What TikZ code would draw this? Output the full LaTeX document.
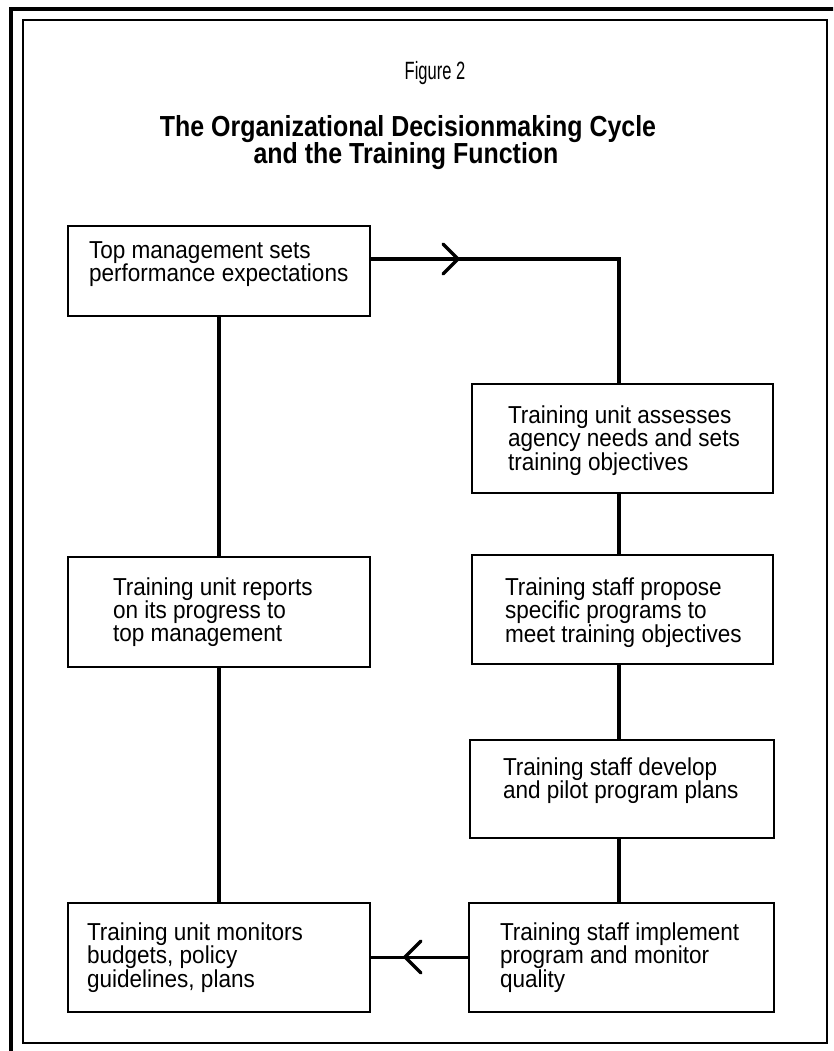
\documentclass[tikz,border=0pt]{standalone}
\usepackage{fontspec}
\setmainfont{Liberation Sans}
\newfontfamily\figfont[FakeStretch=0.66]{Liberation Sans}
\newfontfamily\titlefont[FakeStretch=0.86]{Liberation Sans}
\newfontfamily\boxfont[FakeStretch=0.92]{Liberation Sans}
\newcommand{\boxtext}[5]{\parbox[c][#2][t]{#1}{\boxfont\fontsize{24.5}{22.8}\selectfont\parindent=0pt\leftskip=#3\relax\rule{0pt}{#4}#5}}
\tikzset{
  box/.style={draw, line width=2.2pt, inner sep=0pt, outer sep=0pt, anchor=north west},
  link/.style={line width=3.2pt},
  chev/.style={line width=3.4pt, line cap=round, line join=miter},
  outerframe/.style={line width=3.2pt},
  innerframe/.style={line width=2.2pt},
  fignum/.style={anchor=base, inner sep=0pt, font=\figfont\fontsize{25}{25}\selectfont},
  titletext/.style={anchor=base, inner sep=0pt, font=\titlefont\bfseries\fontsize{29}{29}\selectfont}
}
\begin{document}
\begin{tikzpicture}[x=1pt, y=-1pt]
\useasboundingbox (0,0) rectangle (833,1051);
\clip (0,0) rectangle (833,1051);
% frames
\draw[outerframe] (11,1070) -- (11,9) -- (850,9);
\draw[innerframe] (23,20) rectangle (827,1043);
% titles
\node[fignum] (fig) at (435,80) {Figure 2};
\node[titletext] (title1) at (408,137) {The Organizational Decisionmaking Cycle};
\node[titletext] (title2) at (406,164) {and the Training Function};
% boxes
\node[box] (top) at (68,226) {\boxtext{302pt}{90pt}{21pt}{32pt}{Top management sets\\performance expectations}};
\node[box] (rep) at (68,557) {\boxtext{302pt}{110pt}{45pt}{38pt}{Training unit reports\\on its progress to\\top management}};
\node[box] (mon) at (68,903) {\boxtext{302pt}{109pt}{19pt}{37pt}{Training unit monitors\\budgets, policy\\guidelines, plans}};
\node[box] (ass) at (472,384) {\boxtext{301pt}{109pt}{36pt}{39pt}{Training unit assesses\\agency needs and sets\\training objectives}};
\node[box] (pro) at (472,555) {\boxtext{301pt}{109pt}{33pt}{40pt}{Training staff propose\\specific programs to\\meet training objectives}};
\node[box] (dev) at (470,740) {\boxtext{304pt}{98pt}{33pt}{35pt}{Training staff develop\\and pilot program plans}};
\node[box] (imp) at (469,903) {\boxtext{305pt}{109pt}{31pt}{37pt}{Training staff implement\\program and monitor\\quality}};
% connectors
\coordinate (tr) at (619,259);
\coordinate (rx) at (619,0);
\coordinate (lx) at (219,0);
\draw[link] (top.east |- tr) -- (tr) -- (tr |- ass.north);
\draw[link] (rx |- ass.south) -- (rx |- pro.north);
\draw[link] (rx |- pro.south) -- (rx |- dev.north);
\draw[link] (rx |- dev.south) -- (rx |- imp.north);
\draw[link] (lx |- top.south) -- (lx |- rep.north);
\draw[link] (lx |- rep.south) -- (lx |- mon.north);
\draw[link] (imp.west) -- (mon.east);
% chevrons
\coordinate (ah1) at (458,259);
\coordinate (ah2) at (405,957);
\draw[chev] (ah1) ++(-15,-15) -- (ah1) -- ++(-15,15);
\draw[chev] (ah2) ++(16,-16) -- (ah2) -- ++(16,16);
\end{tikzpicture}
\end{document}
